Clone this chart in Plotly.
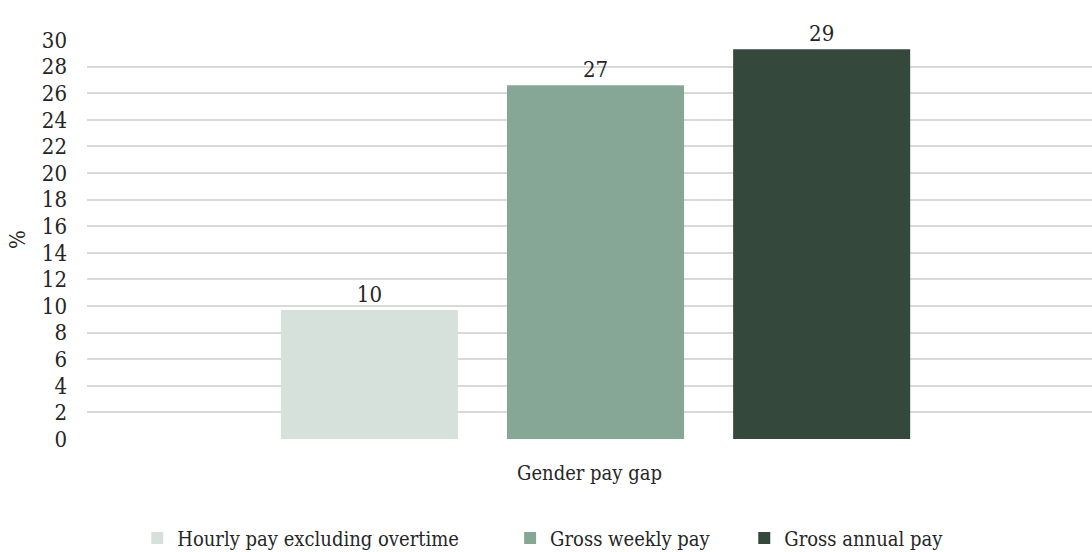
import plotly.graph_objects as go

category = ["Gender pay gap"]
series_names = ["Hourly pay excluding overtime", "Gross weekly pay", "Gross annual pay"]
series_values = [9.7, 26.6, 29.3]
colors = ["#d7e1dc", "#87a796", "#34483c"]
y_ticks = list(range(0, 31, 2))

FONT = "DejaVu Serif Condensed, Liberation Serif, serif"
TXT = "#262626"
FS = 20
FS_NUM = 22

# one legend per series so each entry sits at its own spot along the bottom
legend_keys = ["legend", "legend2", "legend3"]
legend_x = [0.05, 0.421, 0.654]

fig = go.Figure()
for name, val, col, lg in zip(series_names, series_values, colors, legend_keys):
    fig.add_trace(go.Bar(
        x=category, y=[val], name=name, legend=lg, showlegend=True,
        marker=dict(color=col, line=dict(width=0)),
        texttemplate="%{y:.0f}", textposition="outside",
        textfont=dict(family=FONT, size=FS_NUM, color=TXT),
        cliponaxis=False,
    ))

legend_common = dict(
    visible=True, orientation="h", xanchor="left", xref="paper", yref="paper",
    y=-0.248, yanchor="middle",
    font=dict(family=FONT, size=FS, color=TXT), bgcolor="rgba(0,0,0,0)",
)

fig.update_layout(
    width=1092, height=552,
    showlegend=True,
    margin=dict(l=87, r=0, t=40, b=113, autoexpand=False),
    paper_bgcolor="white", plot_bgcolor="white",
    barmode="group", bargap=0.325, bargroupgap=0.217,
    font=dict(family=FONT, size=FS, color=TXT),
    xaxis=dict(
        range=[-0.506, 0.494], showticklabels=False, showgrid=False,
        showline=False, zeroline=False,
        title=dict(text="Gender pay gap", standoff=26,
                   font=dict(family=FONT, size=FS, color=TXT)),
    ),
    yaxis=dict(
        range=[0, 30], tickvals=y_ticks, showgrid=True,
        gridcolor="#d9d9d9", gridwidth=1.5, zeroline=False, showline=False,
        ticklabelstandoff=19,
        tickfont=dict(family=FONT, size=FS_NUM, color=TXT),
        title=dict(text="%", standoff=10,
                   font=dict(family=FONT, size=FS_NUM, color=TXT)),
    ),
    legend=dict(x=legend_x[0], **legend_common),
    legend2=dict(x=legend_x[1], **legend_common),
    legend3=dict(x=legend_x[2], **legend_common),
)

fig.write_html("out.html")
